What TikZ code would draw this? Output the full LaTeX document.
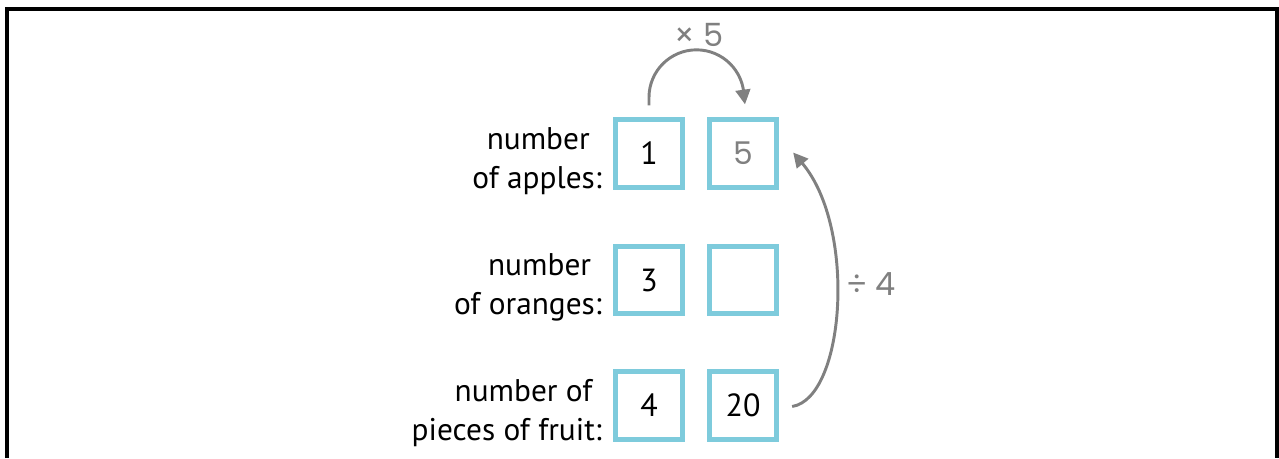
\documentclass[tikz,border=0pt]{standalone}
\usepackage{fontspec}
\setmainfont{PT Sans}
\newfontfamily\grayfont{Poppins}
\usetikzlibrary{arrows.meta,calc}
\definecolor{boxblue}{RGB}{126,203,220}
\definecolor{arrgray}{RGB}{128,128,128}
\begin{document}
\begin{tikzpicture}[x=0.75pt,y=0.75pt,
  valbox/.style={draw=boxblue,line width=3.75pt,minimum width=50.5pt,minimum height=50.5pt,inner sep=0pt,font=\fontsize{24}{29}\selectfont,text=black},
  rowlabel/.style={anchor=east,align=right,font=\fontsize{23.5}{29}\selectfont,inner sep=0pt},
  graytext/.style={text=arrgray,font=\grayfont\fontsize{24}{28}\selectfont,inner sep=0pt},
  arr/.style={draw=arrgray,line width=2.2pt,-{Triangle[length=11pt,width=11pt]}}]
\useasboundingbox (0,0) rectangle (1279,458);
\draw[line width=2.4pt] (7,0) -- (7,449) -- (1277,449) -- (1277,0);
% boxes
\node[valbox] (b11) at (649,304.5) {1};
\node[valbox,text=arrgray,font=\grayfont\fontsize{23.5}{28}\selectfont] (b12) at (743,304.5) {5};
\node[valbox] (b21) at (649,178) {3};
\node[valbox] (b22) at (743,178) {};
\node[valbox] (b31) at (649,52.5) {4};
\node[valbox] (b32) at (743,52.5) {20};
% labels
\node[rowlabel] (l1) at (602,297) {number\makebox[9pt]{}\\of apples:};
\node[rowlabel] (l2) at (602,170.5) {number\makebox[8pt]{}\\of oranges:};
\node[rowlabel] (l3) at (602,45) {number of\makebox[7pt]{}\\pieces of fruit:};
% times arrow
\coordinate (s1) at ($(b11.north)+(0,12)$);
\coordinate (e1) at ($(b12.north)+(2,13)$);
\draw[arr] (s1) -- ++(0,8) arc (180:0:47.5) -- (e1);
\node[graytext] (t1) at (699,423) {× 5};
% divide arrow
\coordinate (s2) at ($(b32.east)+(13,-1)$);
\coordinate (e2) at ($(b12.east)+(14,1)$);
\draw[arr] (s2) .. controls (845,60) and (857,230) .. (e2);
\node[graytext] (t2) at (871,174) {÷ 4};
\end{tikzpicture}
\end{document}
